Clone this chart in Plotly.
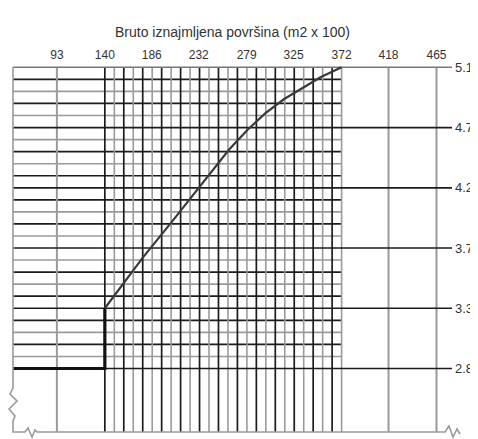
import numpy as np
import plotly.graph_objects as go

# ---------------- data ----------------
x_tick_labels = [93, 140, 186, 232, 279, 325, 372, 418, 465]          # m2 x 100 (top axis)
y_tick_labels = ["2.8", "3.3", "3.7", "4.2", "4.7", "5.1"]            # right axis labels
y_min_val, y_max_val = 2.8, 5.1
grid_x_start, grid_x_end = 140, 372
n_grid_steps = 25
outer_x_lines = [93, 418, 465]

step_x = [50, 140, 140]
step_y = [2.8, 2.8, 3.26]

curve_x = [140, 177, 205.6, 232.6, 261.4, 279.4, 297.4, 315.4, 333.3, 351.3, 372]
curve_y = [3.26, 3.645, 3.92, 4.186, 4.468, 4.62, 4.75, 4.856, 4.94, 5.024, 5.1]

title_text = "Bruto iznajmljena površina (m2 x 100)"

# ---------------- layout constants ----------------
# the page body has an 8px margin, so the figure is 8px smaller than the window
OFF = 8
W, H = 478 - OFF, 439 - OFF
ML, MR, MT, MB = 13 - OFF, 26, 66 - OFF, 7
X_RANGE = [50, 480.2]
Y_RANGE = [2.315, 5.11]

grid_x = np.linspace(grid_x_start, grid_x_end, n_grid_steps + 1)
grid_y = np.linspace(y_min_val, y_max_val, n_grid_steps + 1)
label_y = grid_y[::5]

DARK = "#1c1c1c"
GRAY = "#9a9a9a"


def segs_v(xs, y0, y1):
    X, Y = [], []
    for x in xs:
        X += [x, x, None]
        Y += [y0, y1, None]
    return X, Y


def segs_h(ys, x0, x1):
    X, Y = [], []
    for y in ys:
        X += [x0, x1, None]
        Y += [y, y, None]
    return X, Y


fig = go.Figure()


def add_line(X, Y, color, width, dash=None):
    fig.add_trace(go.Scatter(x=X, y=Y, mode="lines", hoverinfo="skip", showlegend=False,
                             line=dict(color=color, width=width, dash=dash)))


# horizontal grid lines (unlabelled, end at grid right)
dark_h = [y for i, y in enumerate(grid_y) if i % 5 != 0 and i % 2 == 0]
gray_h = [y for i, y in enumerate(grid_y) if i % 5 != 0 and i % 2 == 1]
add_line(*segs_h(gray_h, X_RANGE[0], grid_x_end), GRAY, 1.6)
add_line(*segs_h(dark_h, X_RANGE[0], grid_x_end), DARK, 1.7)

# outer grey vertical lines
add_line(*segs_v(outer_x_lines, Y_RANGE[0], y_max_val), GRAY, 2)

# vertical grid lines
dark_v = [x for i, x in enumerate(grid_x) if i % 2 == 0]
gray_v = [x for i, x in enumerate(grid_x) if i % 2 == 1]
add_line(*segs_v(gray_v, Y_RANGE[0], y_max_val), GRAY, 1.6)
add_line(*segs_v(dark_v, Y_RANGE[0], y_max_val), DARK, 1.7)

# labelled horizontal lines (extend to right labels)
add_line(*segs_h(label_y[:-1], X_RANGE[0], X_RANGE[1]), DARK, 1.7)
add_line(*segs_h([label_y[-1]], X_RANGE[0], X_RANGE[1]), "#777777", 1.6)

# step (thick) line and curve
add_line(step_x, step_y, "#111111", 3.2)
add_line(curve_x, curve_y, "#3a3a3a", 2.2)

# ---------------- border with axis-break marks (decoration) ----------------
pw = W - ML - MR
ph = H - MT - MB


def px2paper(px, py):
    # px, py are window pixel positions
    return (px - OFF - ML) / pw, (H - MB - (py - OFF)) / ph


border_pts = [(13, 67), (13, 388), (10, 394), (17, 401), (9, 409), (15, 416), (13, 421), (13, 432),
              (25, 432), (28, 428), (32, 437), (35, 430), (37, 432), (445, 432), (449, 426),
              (453, 437), (457, 429), (460, 434)]
path = ""
for i, (a, b) in enumerate(border_pts):
    xp, yp = px2paper(a, b)
    path += ("M" if i == 0 else "L") + f"{xp:.4f},{yp:.4f} "
fig.add_shape(type="path", path=path, xref="paper", yref="paper",
              line=dict(color=GRAY, width=1.6), layer="above")

fig.update_layout(
    width=W, height=H,
    margin=dict(l=ML, r=MR, t=MT, b=MB, autoexpand=False),
    paper_bgcolor="white", plot_bgcolor="white",
    showlegend=False,
    xaxis=dict(range=X_RANGE, side="top", tickvals=x_tick_labels,
               ticktext=[str(v) for v in x_tick_labels], automargin=False,
               showgrid=False, zeroline=False, showline=False, ticks="",
               ticklabelstandoff=4,
               tickfont=dict(family="Liberation Sans Narrow, Arial Narrow, Liberation Sans", size=12,
                             color="#333333"),
               title=dict(text=title_text, standoff=6,
                          font=dict(family="Liberation Sans, Arial", size=14, color="#333333"))),
    yaxis=dict(range=Y_RANGE, side="right", tickvals=list(label_y), ticktext=y_tick_labels,
               showgrid=False, zeroline=False, showline=False, ticks="", automargin=False,
               ticklabelstandoff=2,
               tickfont=dict(family="Liberation Sans, Arial", size=13, color="#333333")),
)

fig.write_html("out.html")
